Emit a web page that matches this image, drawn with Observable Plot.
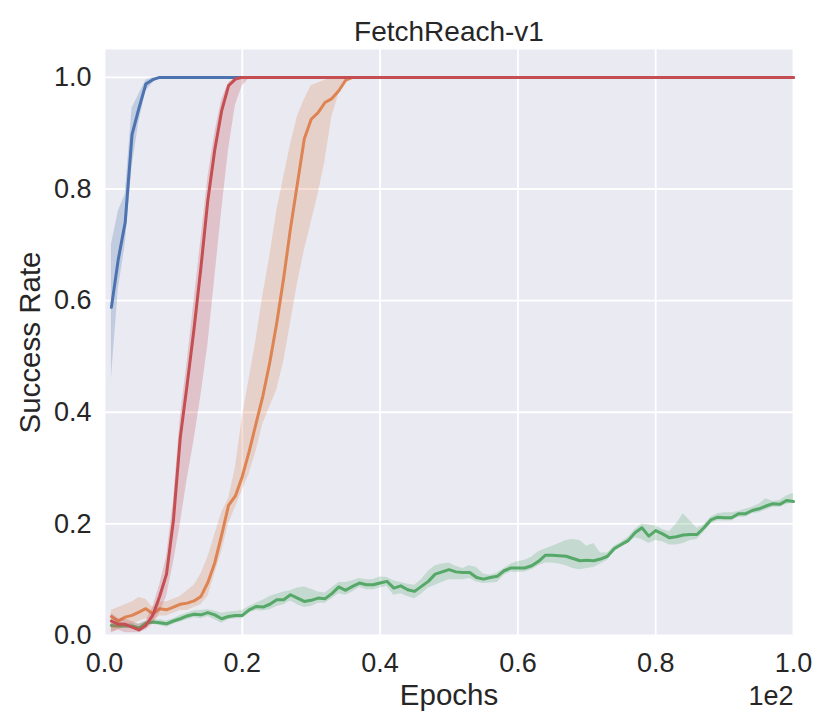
<!DOCTYPE html>
<html><head><meta charset="utf-8">
<script src="https://cdn.jsdelivr.net/npm/d3@7"></script>
<script src="https://cdn.jsdelivr.net/npm/@observablehq/plot@0.6"></script>
<style>body{margin:0;background:#fff}</style>
</head><body><div id="chart"></div>
<script>
const epochs = d3.range(1, 101);
const xTicks = [0, 20, 40, 60, 80, 100];
const yTicks = [0, 0.2, 0.4, 0.6, 0.8, 1.0];

const blue = [
.588,.674,.740,.898,.945,.988,.996,1,1,1,
1,1,1,1,1,1,1,1,1,1, 1,1,1,1,1,1,1,1,1,1, 1,1,1,1,1,1,1,1,1,1,
1,1,1,1,1,1,1,1,1,1, 1,1,1,1,1,1,1,1,1,1, 1,1,1,1,1,1,1,1,1,1,
1,1,1,1,1,1,1,1,1,1, 1,1,1,1,1,1,1,1,1,1, 1,1,1,1,1,1,1,1,1,1];
const blueLo = [
.46,.62,.70,.84,.92,.975,.99,1,1,1,
1,1,1,1,1,1,1,1,1,1, 1,1,1,1,1,1,1,1,1,1, 1,1,1,1,1,1,1,1,1,1,
1,1,1,1,1,1,1,1,1,1, 1,1,1,1,1,1,1,1,1,1, 1,1,1,1,1,1,1,1,1,1,
1,1,1,1,1,1,1,1,1,1, 1,1,1,1,1,1,1,1,1,1, 1,1,1,1,1,1,1,1,1,1];
const blueHi = [
.70,.76,.79,.945,.97,.995,1,1,1,1,
1,1,1,1,1,1,1,1,1,1, 1,1,1,1,1,1,1,1,1,1, 1,1,1,1,1,1,1,1,1,1,
1,1,1,1,1,1,1,1,1,1, 1,1,1,1,1,1,1,1,1,1, 1,1,1,1,1,1,1,1,1,1,
1,1,1,1,1,1,1,1,1,1, 1,1,1,1,1,1,1,1,1,1, 1,1,1,1,1,1,1,1,1,1];

const green = [
.018,.017,.017,.017,.013,.022,.024,.023,.021,.026,
.030,.035,.038,.037,.041,.037,.030,.034,.036,.036,
.046,.052,.051,.056,.064,.064,.073,.067,.061,.063,
.067,.066,.075,.087,.081,.088,.094,.091,.091,.094,
.097,.085,.089,.082,.079,.088,.097,.110,.114,.118,
.114,.113,.113,.104,.101,.104,.106,.116,.121,.121,
.121,.125,.133,.144,.144,.143,.142,.138,.134,.135,
.134,.137,.142,.156,.163,.170,.184,.193,.178,.188,
.182,.175,.177,.180,.181,.181,.193,.207,.212,.211,
.211,.218,.218,.224,.227,.232,.236,.235,.242,.240];
const greenHi = [
.025,.024,.022,.022,.020,.026,.028,.028,.026,.030,
.036,.040,.044,.045,.046,.044,.040,.042,.043,.045,
.052,.058,.063,.070,.074,.078,.080,.085,.087,.083,
.078,.076,.085,.095,.095,.098,.102,.100,.100,.105,
.104,.098,.095,.092,.090,.100,.115,.125,.128,.130,
.124,.120,.125,.122,.110,.108,.112,.120,.128,.132,
.135,.140,.150,.155,.160,.165,.170,.172,.170,.160,
.165,.148,.148,.160,.167,.176,.190,.200,.198,.196,
.190,.186,.200,.218,.205,.192,.198,.212,.218,.220,
.220,.222,.226,.230,.235,.245,.240,.242,.250,.255];
const greenLo = [
.012,.012,.013,.012,.008,.018,.020,.018,.015,.020,
.024,.028,.032,.030,.034,.028,.022,.028,.030,.030,
.040,.045,.044,.046,.052,.055,.062,.055,.050,.052,
.058,.058,.066,.075,.072,.078,.086,.082,.082,.085,
.088,.072,.075,.070,.066,.074,.085,.090,.095,.100,
.100,.100,.102,.096,.093,.094,.095,.108,.114,.113,
.114,.118,.125,.130,.130,.128,.125,.120,.118,.120,
.122,.128,.135,.150,.158,.165,.175,.172,.165,.170,
.168,.162,.162,.165,.170,.172,.185,.200,.205,.205,
.205,.212,.212,.218,.220,.225,.230,.230,.235,.237];

const orange = [
.034,.026,.033,.036,.042,.048,.039,.048,.046,.051,
.056,.058,.062,.070,.095,.130,.180,.233,.250,.285,
.330,.380,.430,.490,.560,.640,.730,.810,.890,.925,
.937,.955,.962,.976,.995,1,1,1,1,1,
1,1,1,1,1,1,1,1,1,1, 1,1,1,1,1,1,1,1,1,1, 1,1,1,1,1,1,1,1,1,1,
1,1,1,1,1,1,1,1,1,1, 1,1,1,1,1,1,1,1,1,1, 1,1,1,1,1,1,1,1,1,1];
const orangeLo = [
.006,.010,.015,.020,.025,.030,.025,.035,.035,.040,
.045,.045,.050,.055,.070,.110,.150,.200,.230,.260,
.290,.330,.380,.410,.440,.490,.560,.630,.690,.740,
.790,.850,.930,.970,.990,1,1,1,1,1,
1,1,1,1,1,1,1,1,1,1, 1,1,1,1,1,1,1,1,1,1, 1,1,1,1,1,1,1,1,1,1,
1,1,1,1,1,1,1,1,1,1, 1,1,1,1,1,1,1,1,1,1, 1,1,1,1,1,1,1,1,1,1];
const orangeHi = [
.045,.050,.055,.060,.068,.065,.050,.060,.060,.065,
.070,.080,.090,.110,.140,.180,.220,.245,.300,.390,
.460,.530,.610,.680,.760,.820,.880,.930,.960,.985,
.990,.995,1,1,1,1,1,1,1,1,
1,1,1,1,1,1,1,1,1,1, 1,1,1,1,1,1,1,1,1,1, 1,1,1,1,1,1,1,1,1,1,
1,1,1,1,1,1,1,1,1,1, 1,1,1,1,1,1,1,1,1,1, 1,1,1,1,1,1,1,1,1,1];

const red = [
.026,.020,.020,.015,.010,.018,.036,.070,.110,.206,
.355,.450,.550,.660,.780,.870,.940,.985,.997,1,
1,1,1,1,1,1,1,1,1,1, 1,1,1,1,1,1,1,1,1,1, 1,1,1,1,1,1,1,1,1,1,
1,1,1,1,1,1,1,1,1,1, 1,1,1,1,1,1,1,1,1,1, 1,1,1,1,1,1,1,1,1,1,
1,1,1,1,1,1,1,1,1,1, 1,1,1,1,1,1,1,1,1,1];
const redLo = [
.005,.010,.005,.005,.005,.010,.020,.040,.070,.130,
.200,.280,.350,.430,.520,.640,.760,.870,.950,.985,
.998,1,1,1,1,1,1,1,1,1,
1,1,1,1,1,1,1,1,1,1, 1,1,1,1,1,1,1,1,1,1, 1,1,1,1,1,1,1,1,1,1,
1,1,1,1,1,1,1,1,1,1, 1,1,1,1,1,1,1,1,1,1, 1,1,1,1,1,1,1,1,1,1,
1,1,1,1,1,1,1,1,1,1];
const redHi = [
.040,.030,.030,.025,.020,.025,.050,.090,.140,.240,
.390,.490,.600,.710,.820,.900,.960,.990,1,1,
1,1,1,1,1,1,1,1,1,1, 1,1,1,1,1,1,1,1,1,1, 1,1,1,1,1,1,1,1,1,1,
1,1,1,1,1,1,1,1,1,1, 1,1,1,1,1,1,1,1,1,1, 1,1,1,1,1,1,1,1,1,1,
1,1,1,1,1,1,1,1,1,1, 1,1,1,1,1,1,1,1,1,1];

const series = [
  {color: "#4C72B0", mean: blue, lo: blueLo, hi: blueHi},
  {color: "#55A868", mean: green, lo: greenLo, hi: greenHi},
  {color: "#DD8452", mean: orange, lo: orangeLo, hi: orangeHi},
  {color: "#C44E52", mean: red, lo: redLo, hi: redHi}
];
const rows = s => epochs.map((e, i) => ({e, m: s.mean[i], lo: s.lo[i], hi: s.hi[i]}));

const ink = "#262626";
const marks = [
  Plot.frame({fill: "#EAEAF2", stroke: "none"}),
  Plot.gridX(xTicks, {stroke: "white", strokeOpacity: 1, strokeWidth: 1.8}),
  Plot.gridY(yTicks, {stroke: "white", strokeOpacity: 1, strokeWidth: 1.8})
];
for (const s of series) {
  const d = rows(s);
  marks.push(Plot.areaY(d, {x: "e", y1: "lo", y2: "hi", fill: s.color, fillOpacity: 0.25}));
  marks.push(Plot.lineY(d, {x: "e", y: "m", stroke: s.color, strokeWidth: 3, strokeLinejoin: "round"}));
}
marks.push(
  Plot.axisX(xTicks, {tickSize: 0, tickPadding: 17, fontSize: 27, fill: ink, tickFormat: d => (d / 100).toFixed(1), label: null}),
  Plot.axisY(yTicks, {tickSize: 0, tickPadding: 13, fontSize: 27, fill: ink, tickFormat: d => d.toFixed(1), label: null}),
  Plot.text(["FetchReach-v1"], {frameAnchor: "top", textAnchor: "middle", lineAnchor: "bottom", dy: -9, fontSize: 28, fill: ink}),
  Plot.text(["Epochs"], {frameAnchor: "bottom", textAnchor: "middle", lineAnchor: "bottom", dy: 69, fontSize: 29.5, fill: ink}),
  Plot.text(["1e2"], {frameAnchor: "bottom-right", textAnchor: "end", lineAnchor: "bottom", dy: 69, fontSize: 27, fill: ink}),
  Plot.text(["Success Rate"], {frameAnchor: "left", textAnchor: "middle", lineAnchor: "middle", rotate: -90, dx: -74, fontSize: 29.5, fill: ink})
);

const chart = Plot.plot({
  width: 830, height: 727,
  marginLeft: 104, marginRight: 37, marginTop: 49, marginBottom: 92,
  style: {fontFamily: "'Liberation Sans', Arial, sans-serif", background: "#fff", color: ink},
  x: {domain: [0, 100], label: null},
  y: {domain: [0, 1.05], label: null},
  marks
});
document.getElementById("chart").appendChild(chart);
</script>
</body></html>
